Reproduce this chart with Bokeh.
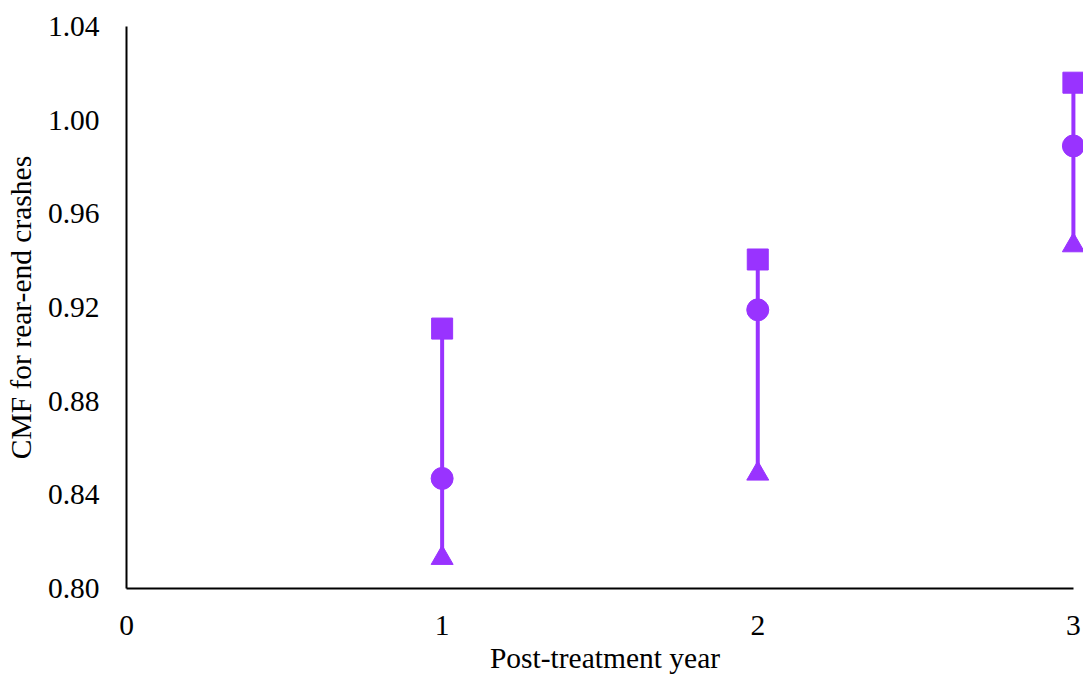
from bokeh.plotting import figure
from bokeh.models import ColumnDataSource, Range1d, FixedTicker, NumeralTickFormatter
from bokeh.embed import file_html
from bokeh.resources import INLINE

# CMF estimates for rear-end crashes by post-treatment year
years = [1, 2, 3]
cmf_point = [0.847, 0.919, 0.989]
cmf_upper = [0.911, 0.9405, 1.016]
cmf_lower = [0.813, 0.849, 0.9465]

x_ticks = [0, 1, 2, 3]
y_ticks = [0.80, 0.84, 0.88, 0.92, 0.96, 1.00, 1.04]

PURPLE = "#9933FF"
FONT = "Liberation Serif"
FONT_SIZE = "29.5px"

src = ColumnDataSource(dict(year=years, point=cmf_point, upper=cmf_upper, lower=cmf_lower))

p = figure(
    width=1083, height=676,
    output_backend="svg", toolbar_location=None,
    x_range=Range1d(0, 3.032), y_range=Range1d(0.80, 1.04),
    min_border_left=126, min_border_right=0, min_border_top=26, min_border_bottom=88,
)
p.outline_line_color = None
p.grid.visible = False
p.background_fill_color = "white"
p.border_fill_color = "white"

# interval line from lower to upper bound
p.segment(x0="year", y0="lower", x1="year", y1="upper", source=src,
          line_color=PURPLE, line_width=4)
p.scatter(x="year", y="upper", source=src, marker="square", size=21,
          fill_color=PURPLE, line_color=PURPLE)
p.scatter(x="year", y="point", source=src, marker="circle", size=22,
          fill_color=PURPLE, line_color=PURPLE)
p.scatter(x="year", y="lower", source=src, marker="triangle", size=22,
          fill_color=PURPLE, line_color=PURPLE)

for ax in (p.xaxis[0], p.yaxis[0]):
    ax.axis_line_color = "black"
    ax.axis_line_width = 2
    ax.major_tick_in = 0
    ax.major_tick_out = 0
    ax.minor_tick_in = 0
    ax.minor_tick_out = 0
    ax.major_label_text_font = FONT
    ax.major_label_text_font_size = FONT_SIZE
    ax.major_label_text_color = "black"
    ax.axis_label_text_font = FONT
    ax.axis_label_text_font_size = FONT_SIZE
    ax.axis_label_text_font_style = "normal"
    ax.axis_label_text_color = "black"

p.xaxis.ticker = FixedTicker(ticks=x_ticks)
p.xaxis.bounds = (0, 3)
p.xaxis.major_label_standoff = 27
p.xaxis.axis_label = "Post-treatment year"
p.xaxis.axis_label_standoff = 4

p.yaxis.ticker = FixedTicker(ticks=y_ticks)
p.yaxis.formatter = NumeralTickFormatter(format="0.00")
p.yaxis.major_label_standoff = 27
p.yaxis.axis_label = "CMF for rear-end crashes"
p.yaxis.axis_label_standoff = 8

open("out.html", "w").write(file_html(p, INLINE))
